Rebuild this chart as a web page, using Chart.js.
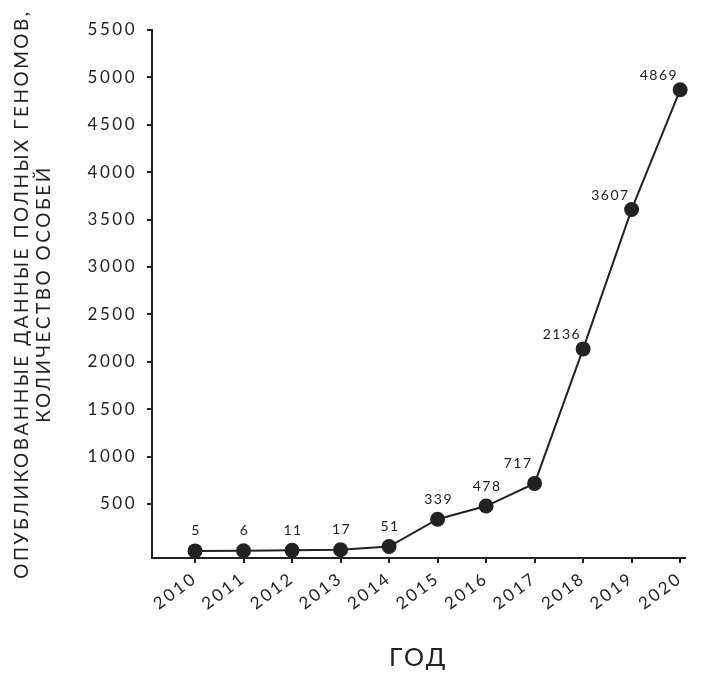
<!DOCTYPE html>
<html>
<head>
<meta charset="utf-8">
<script src="https://cdn.jsdelivr.net/npm/chart.js@4.4.1/dist/chart.umd.min.js"></script>
<style>
  html, body { margin: 0; padding: 0; background: #fff; }
  #wrap { width: 703px; height: 675px; }
</style>
</head>
<body>
<div id="wrap"><canvas id="chart"></canvas></div>
<script>
// ---------- data ----------
const years = [2010, 2011, 2012, 2013, 2014, 2015, 2016, 2017, 2018, 2019, 2020];
const genomes = [5, 6, 11, 17, 51, 339, 478, 717, 2136, 3607, 4869];
const yTickValues = [500, 1000, 1500, 2000, 2500, 3000, 3500, 4000, 4500, 5000, 5500];

const ink = '#222222';
const fontFamily = 'Lato, "Open Sans", sans-serif';

// letter spacing for all canvas text (canvas state gets reset on resize)
const spacing = {
  id: 'spacing',
  beforeLayout(chart) { chart.ctx.letterSpacing = '2.5px'; },
  beforeDraw(chart) { chart.ctx.letterSpacing = '2.5px'; }
};

// value labels above the points
const pointLabels = {
  id: 'pointLabels',
  afterDatasetsDraw(chart) {
    const ctx = chart.ctx;
    const meta = chart.getDatasetMeta(0);
    ctx.save();
    ctx.font = '14px ' + fontFamily;
    ctx.letterSpacing = '1.5px';
    ctx.fillStyle = ink;
    ctx.textBaseline = 'middle';
    meta.data.forEach((pt, i) => {
      const txt = String(genomes[i]);
      if (i >= 7) {
        ctx.textAlign = 'right';
        ctx.fillText(txt, pt.x - 2, pt.y - (i === 7 ? 20 : 14));
      } else {
        ctx.textAlign = 'center';
        ctx.fillText(txt, pt.x + 1, pt.y - 20);
      }
    });
    ctx.restore();
  }
};

new Chart(document.getElementById('chart'), {
  type: 'line',
  data: {
    datasets: [{
      data: years.map((y, i) => ({ x: y, y: genomes[i] })),
      borderColor: ink,
      borderWidth: 2,
      pointRadius: 7.5,
      pointBackgroundColor: ink,
      pointBorderColor: ink,
      pointBorderWidth: 0,
      tension: 0,
      clip: false
    }]
  },
  options: {
    responsive: true,
    maintainAspectRatio: false,
    animation: false,
    layout: { padding: { top: 30, right: 18, bottom: 0, left: 0 } },
    plugins: {
      legend: { display: false },
      tooltip: { enabled: false }
    },
    scales: {
      x: {
        type: 'linear',
        min: 2009.113,
        max: 2020.1,
        afterBuildTicks: (axis) => { axis.ticks = years.map(v => ({ value: v })); },
        afterFit: (scale) => { scale.height = 117; },
        border: { display: true, color: ink, width: 2 },
        grid: { drawOnChartArea: false, drawTicks: true, tickLength: 5, color: ink, lineWidth: 2 },
        ticks: {
          color: ink,
          font: { family: fontFamily, size: 17 },
          maxRotation: 37,
          minRotation: 37,
          padding: 5,
          callback: (v) => String(v)
        },
        title: {
          display: true,
          text: 'ГОД',
          color: ink,
          font: { family: fontFamily, size: 25 },
          padding: { top: 0, bottom: 2 }
        }
      },
      y: {
        min: -70,
        max: 5500,
        afterBuildTicks: (axis) => { axis.ticks = yTickValues.map(v => ({ value: v })); },
        afterFit: (scale) => { scale.width = 152; },
        border: { display: true, color: ink, width: 2 },
        grid: { drawOnChartArea: false, drawTicks: true, tickLength: 5, color: ink, lineWidth: 2 },
        ticks: {
          color: ink,
          font: { family: fontFamily, size: 17 },
          padding: 10,
          callback: (v) => String(v)
        },
        title: {
          display: true,
          text: ['ОПУБЛИКОВАННЫЕ ДАННЫЕ ПОЛНЫХ ГЕНОМОВ,', 'КОЛИЧЕСТВО ОСОБЕЙ'],
          color: ink,
          font: { family: fontFamily, size: 19, lineHeight: 1.2 },
          padding: { top: 10, bottom: 0 }
        }
      }
    }
  },
  plugins: [spacing, pointLabels]
});
</script>
</body>
</html>
